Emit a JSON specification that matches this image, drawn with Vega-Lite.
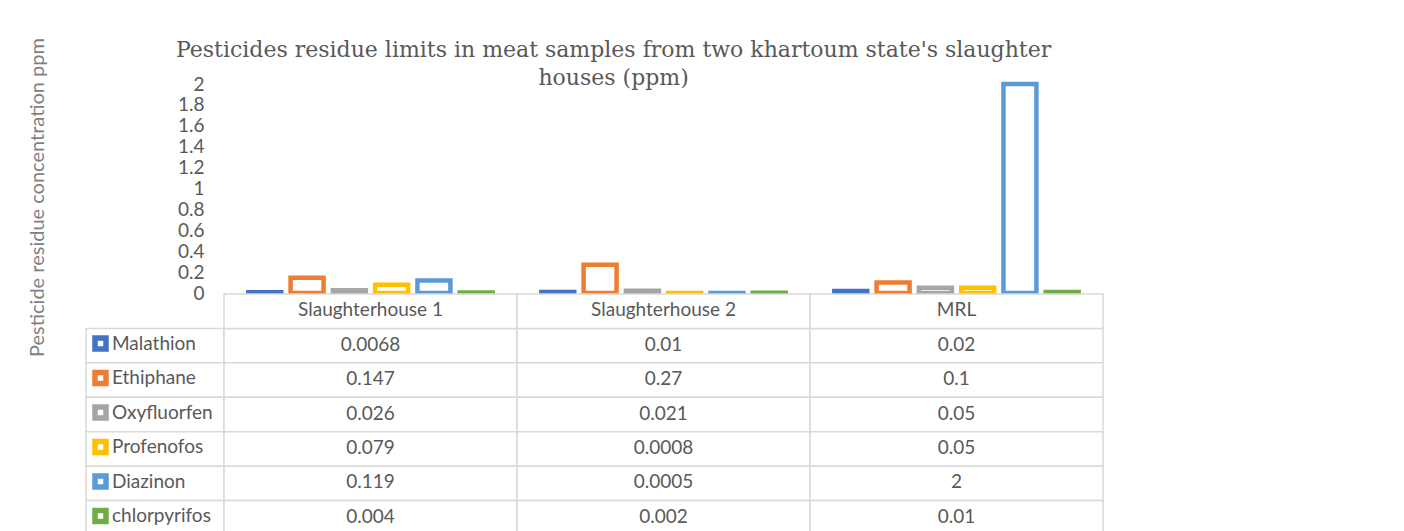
{
  "$schema": "https://vega.github.io/schema/vega-lite/v6.json",
  "padding": {"left": 27, "top": 37, "right": 5, "bottom": 0},
  "background": "white",
  "datasets": {
    "pest": [
      {"category": "Slaughterhouse 1", "pesticide": "Malathion", "value": 0.0068},
      {"category": "Slaughterhouse 1", "pesticide": "Ethiphane", "value": 0.147},
      {"category": "Slaughterhouse 1", "pesticide": "Oxyfluorfen", "value": 0.026},
      {"category": "Slaughterhouse 1", "pesticide": "Profenofos", "value": 0.079},
      {"category": "Slaughterhouse 1", "pesticide": "Diazinon", "value": 0.119},
      {"category": "Slaughterhouse 1", "pesticide": "chlorpyrifos", "value": 0.004},
      {"category": "Slaughterhouse 2", "pesticide": "Malathion", "value": 0.01},
      {"category": "Slaughterhouse 2", "pesticide": "Ethiphane", "value": 0.27},
      {"category": "Slaughterhouse 2", "pesticide": "Oxyfluorfen", "value": 0.021},
      {"category": "Slaughterhouse 2", "pesticide": "Profenofos", "value": 0.0008},
      {"category": "Slaughterhouse 2", "pesticide": "Diazinon", "value": 0.0005},
      {"category": "Slaughterhouse 2", "pesticide": "chlorpyrifos", "value": 0.002},
      {"category": "MRL", "pesticide": "Malathion", "value": 0.02},
      {"category": "MRL", "pesticide": "Ethiphane", "value": 0.1},
      {"category": "MRL", "pesticide": "Oxyfluorfen", "value": 0.05},
      {"category": "MRL", "pesticide": "Profenofos", "value": 0.05},
      {"category": "MRL", "pesticide": "Diazinon", "value": 2},
      {"category": "MRL", "pesticide": "chlorpyrifos", "value": 0.01}
    ]
  },
  "title": {
    "text": ["Pesticides residue limits in meat samples from two khartoum state's slaughter", "houses (ppm)"],
    "font": "DejaVu Serif",
    "fontSize": 22,
    "fontWeight": "normal",
    "color": "#595959",
    "lineHeight": 28,
    "anchor": "middle",
    "dx": 48,
    "offset": -52
  },
  "columns": 2,
  "spacing": {"row": 1, "column": 0},
  "bounds": "flush",
  "concat": [
    {"width": 138, "height": 209, "data": {"values": []}, "mark": "rect"},
    {
      "width": 879,
      "height": 209,
      "data": {"name": "pest"},
      "mark": {"type": "bar", "fill": "white", "strokeWidth": 4.5, "cornerRadius": 0},
      "encoding": {
        "x": {"field": "category", "type": "nominal", "scale": {"domain": ["Slaughterhouse 1", "Slaughterhouse 2", "MRL"], "paddingInner": 0, "paddingOuter": 0}, "axis": null},
        "xOffset": {"field": "pesticide", "type": "nominal", "scale": {"domain": ["Malathion", "Ethiphane", "Oxyfluorfen", "Profenofos", "Diazinon", "chlorpyrifos"], "paddingInner": 0.22, "paddingOuter": 0.575}},
        "y": {
          "field": "value", "type": "quantitative",
          "scale": {"domain": [0, 2], "nice": false},
          "axis": {
            "values": [0, 0.2, 0.4, 0.6, 0.8, 1, 1.2, 1.4, 1.6, 1.8, 2],
            "format": "~g",
            "labelOverlap": false,
            "labelFont": "Lato", "labelFontSize": 19, "labelColor": "#595959", "labelPadding": 20,
            "title": "Pesticide residue concentration ppm",
            "titleFont": "Lato", "titleFontSize": 20, "titleFontWeight": "normal", "titleColor": "#7f7f7f",
            "titlePadding": 130, "titleY": 113
          }
        },
        "stroke": {
          "field": "pesticide", "type": "nominal",
          "scale": {"domain": ["Malathion", "Ethiphane", "Oxyfluorfen", "Profenofos", "Diazinon", "chlorpyrifos"], "range": ["#4472C4", "#ED7D31", "#A5A5A5", "#FFC000", "#5B9BD5", "#70AD47"]},
          "legend": {
            "orient": "none", "legendX": 5, "legendY": 250, "title": null, "padding": 0,
            "symbolType": "square", "symbolSize": 121, "symbolStrokeWidth": 5.5, "symbolFillColor": "white",
            "labelFont": "Lato", "labelFontSize": 19, "labelColor": "#595959", "labelOffset": 2, "rowPadding": 1.5
          }
        }
      }
    },
    {
      "width": 138,
      "height": 241,
      "data": {"name": "pest"},
      "transform": [{"aggregate": [{"op": "count", "as": "n"}], "groupby": ["pesticide"]}],
      "mark": {"type": "rect", "fill": "white", "stroke": "#d9d9d9", "strokeWidth": 1.5},
      "encoding": {
        "y": {"field": "pesticide", "type": "nominal", "scale": {"domain": ["hdr", "Malathion", "Ethiphane", "Oxyfluorfen", "Profenofos", "Diazinon", "chlorpyrifos"], "paddingInner": 0, "paddingOuter": 0}, "axis": null}
      }
    },
    {
      "width": 879,
      "height": 241,
      "data": {"name": "pest"},
      "encoding": {
        "x": {"field": "category", "type": "nominal", "scale": {"domain": ["Slaughterhouse 1", "Slaughterhouse 2", "MRL"], "paddingInner": 0, "paddingOuter": 0}, "axis": null}
      },
      "layer": [
        {
          "mark": {"type": "rect", "fill": "white", "stroke": "#d9d9d9", "strokeWidth": 1.5},
          "encoding": {
            "y": {"field": "pesticide", "type": "nominal", "scale": {"domain": ["hdr", "Malathion", "Ethiphane", "Oxyfluorfen", "Profenofos", "Diazinon", "chlorpyrifos"], "paddingInner": 0, "paddingOuter": 0}, "axis": null}
          }
        },
        {
          "transform": [{"aggregate": [{"op": "count", "as": "n"}], "groupby": ["category"]}],
          "mark": {"type": "rect", "fill": "white", "stroke": "#d9d9d9", "strokeWidth": 1.5},
          "encoding": {"y": {"datum": "hdr", "type": "nominal"}}
        },
        {
          "mark": {"type": "text", "font": "Lato", "fontSize": 19, "color": "#595959", "dy": -1},
          "encoding": {
            "y": {"field": "pesticide", "type": "nominal"},
            "text": {"field": "value", "type": "nominal"}
          }
        },
        {
          "transform": [{"aggregate": [{"op": "count", "as": "n"}], "groupby": ["category"]}],
          "mark": {"type": "text", "font": "Lato", "fontSize": 19, "color": "#595959", "dy": -1},
          "encoding": {
            "y": {"datum": "hdr", "type": "nominal"},
            "text": {"field": "category", "type": "nominal"}
          }
        }
      ]
    }
  ],
  "config": {
    "view": {"stroke": null},
    "font": "Lato",
    "axis": {"grid": false, "domain": false, "ticks": false}
  }
}
